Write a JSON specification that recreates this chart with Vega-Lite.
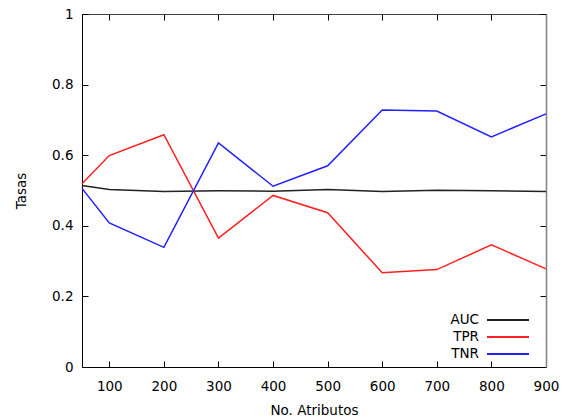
{
  "$schema": "https://vega.github.io/schema/vega-lite/v6.json",
  "width": 464,
  "height": 353,
  "autosize": {"type": "none"},
  "padding": {"left": 82, "top": 14, "right": 28, "bottom": 53},
  "background": "white",
  "config": {
    "view": {"stroke": null},
    "font": "DejaVu Sans",
    "axis": {"labelFont": "DejaVu Sans", "titleFont": "DejaVu Sans", "labelFontSize": 13.5, "titleFontSize": 13.5, "titleFontWeight": "normal", "labelColor": "#000", "titleColor": "#000", "grid": false, "tickSize": -6, "tickColor": "#000", "domainColor": "#000", "domainWidth": 1, "labelFlush": false}
  },
  "data": {"values": [
    {"x": 50, "s": "AUC", "v": 0.514}, {"x": 100, "s": "AUC", "v": 0.503}, {"x": 200, "s": "AUC", "v": 0.497}, {"x": 300, "s": "AUC", "v": 0.499}, {"x": 400, "s": "AUC", "v": 0.498}, {"x": 500, "s": "AUC", "v": 0.503}, {"x": 600, "s": "AUC", "v": 0.497}, {"x": 700, "s": "AUC", "v": 0.501}, {"x": 800, "s": "AUC", "v": 0.499}, {"x": 900, "s": "AUC", "v": 0.497},
    {"x": 50, "s": "TPR", "v": 0.519}, {"x": 100, "s": "TPR", "v": 0.599}, {"x": 200, "s": "TPR", "v": 0.658}, {"x": 300, "s": "TPR", "v": 0.365}, {"x": 400, "s": "TPR", "v": 0.486}, {"x": 500, "s": "TPR", "v": 0.437}, {"x": 600, "s": "TPR", "v": 0.267}, {"x": 700, "s": "TPR", "v": 0.276}, {"x": 800, "s": "TPR", "v": 0.346}, {"x": 900, "s": "TPR", "v": 0.278},
    {"x": 50, "s": "TNR", "v": 0.506}, {"x": 100, "s": "TNR", "v": 0.408}, {"x": 200, "s": "TNR", "v": 0.339}, {"x": 300, "s": "TNR", "v": 0.635}, {"x": 400, "s": "TNR", "v": 0.512}, {"x": 500, "s": "TNR", "v": 0.570}, {"x": 600, "s": "TNR", "v": 0.728}, {"x": 700, "s": "TNR", "v": 0.725}, {"x": 800, "s": "TNR", "v": 0.652}, {"x": 900, "s": "TNR", "v": 0.717}
  ]},
  "layer": [
    {
      "mark": {"type": "line", "strokeWidth": 1.5},
      "encoding": {
        "x": {"field": "x", "type": "quantitative", "scale": {"domain": [50, 900], "nice": false, "zero": false},
              "axis": {"orient": "bottom", "title": "No. Atributos", "values": [100, 200, 300, 400, 500, 600, 700, 800, 900], "labelPadding": 18, "titlePadding": 11, "domainColor": "#000"}},
        "y": {"field": "v", "type": "quantitative", "scale": {"domain": [0, 1], "nice": false},
              "axis": {"orient": "left", "title": "Tasas", "values": [0, 0.2, 0.4, 0.6, 0.8, 1], "labelPadding": 15, "titlePadding": 23, "labelExpr": "datum.value == 0 ? '0' : datum.value == 1 ? '1' : format(datum.value, '.1f')"}},
        "color": {"field": "s", "type": "nominal", "sort": ["AUC", "TPR", "TNR"],
                  "scale": {"domain": ["AUC", "TPR", "TNR"], "range": ["#222222", "#ff2020", "#2020ff"]},
                  "legend": {"title": null, "orient": "none", "legendX": 418, "legendY": 298, "padding": 0, "symbolType": "M-3,0H3", "symbolSize": 196, "symbolStrokeWidth": 2, "symbolFillColor": "transparent", "labelFontSize": 13.5, "labelFont": "DejaVu Sans", "labelAlign": "right", "labelOffset": -37, "rowPadding": 2}}
      }
    },
    {
      "mark": {"type": "line", "opacity": 0},
      "encoding": {
        "x": {"field": "x", "type": "quantitative", "axis": {"orient": "top", "title": null, "labels": false, "values": [100, 200, 300, 400, 500, 600, 700, 800, 900], "domainColor": "#404040"}},
        "y": {"field": "v", "type": "quantitative", "axis": {"orient": "right", "title": null, "labels": false, "values": [0, 0.2, 0.4, 0.6, 0.8, 1], "domainColor": "#808080", "domainWidth": 1.5}}
      }
    }
  ],
  "resolve": {"axis": {"x": "independent", "y": "independent"}}
}
